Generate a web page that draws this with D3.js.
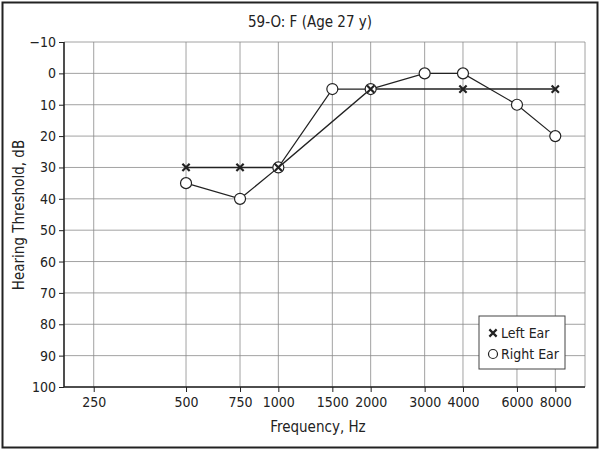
<!DOCTYPE html>
<html>
<head>
<meta charset="utf-8">
<script src="https://cdn.jsdelivr.net/npm/d3@7"></script>
<style>
  body { margin: 0; background: #fff; }
  text { font-family: "Liberation Sans Narrow", "Arial Narrow", "DejaVu Sans Condensed", sans-serif; fill: #222; }
</style>
</head>
<body>
<svg id="chart" width="600" height="450"></svg>
<script>
const freqTicks = [250, 500, 750, 1000, 1500, 2000, 3000, 4000, 6000, 8000];
const dbTicks = [-10, 0, 10, 20, 30, 40, 50, 60, 70, 80, 90, 100];

const leftFreq = [500, 750, 1000, 2000, 4000, 8000];
const leftDb = [30, 30, 30, 5, 5, 5];

const rightFreq = [500, 750, 1000, 1500, 2000, 3000, 4000, 6000, 8000];
const rightDb = [35, 40, 30, 5, 5, 0, 0, 10, 20];

const svg = d3.select("#chart");
const m = { left: 64, right: 585, top: 42, bottom: 387 };

// outer frame
svg.append("rect").attr("x", 2.5).attr("y", 2.5).attr("width", 595).attr("height", 445)
  .attr("fill", "#fff").attr("stroke", "#222").attr("stroke-width", 2);

const x = d3.scaleLog().domain([200, 10000]).range([m.left, m.right]);
const y = d3.scaleLinear().domain([-10, 100]).range([m.top, m.bottom]);

// grid
const grid = svg.append("g").attr("stroke", "#8a8a8a").attr("stroke-width", 0.8);
grid.selectAll(".gx").data(freqTicks).enter().append("line")
  .attr("x1", d => x(d)).attr("x2", d => x(d)).attr("y1", m.top).attr("y2", m.bottom);
grid.selectAll(".gy").data(dbTicks).enter().append("line")
  .attr("x1", m.left).attr("x2", m.right).attr("y1", d => y(d)).attr("y2", d => y(d));
grid.append("line").attr("x1", m.right).attr("x2", m.right).attr("y1", m.top).attr("y2", m.bottom);

// axes
const yAxis = svg.append("g").attr("transform", `translate(${m.left},0)`)
  .call(d3.axisLeft(y).tickValues(dbTicks).tickSize(5).tickPadding(3)
    .tickFormat(d => d < 0 ? "\u2212" + Math.abs(d) : d));
const xAxis = svg.append("g").attr("transform", `translate(0,${m.bottom})`)
  .call(d3.axisBottom(x).tickValues(freqTicks).tickSize(5).tickPadding(5).tickFormat(d3.format("d")));
[xAxis, yAxis].forEach(a => {
  a.select(".domain").attr("stroke", "#222").attr("stroke-width", 1.6);
  a.selectAll(".tick line").attr("stroke", "#222").attr("stroke-width", 1);
  a.selectAll(".tick text").attr("font-size", 14).attr("fill", "#222")
    .style("font-family", "'Liberation Sans Narrow', 'Arial Narrow', 'DejaVu Sans Condensed', sans-serif");
});
yAxis.select(".domain").attr("d", `M0,${m.top}V${m.bottom}`);
xAxis.select(".domain").attr("d", `M${m.left},0H${m.right}`);

// titles
svg.append("text").attr("x", 310).attr("y", 27).attr("text-anchor", "middle")
  .attr("font-size", 15).text("59-O: F (Age 27 y)");
svg.append("text").attr("x", 318).attr("y", 432).attr("text-anchor", "middle")
  .attr("font-size", 15).text("Frequency, Hz");
svg.append("text").attr("transform", "translate(24,215) rotate(-90)").attr("text-anchor", "middle")
  .attr("font-size", 15).text("Hearing Threshold, dB");

const line = d3.line().x(d => x(d[0])).y(d => y(d[1]));
const left = leftFreq.map((f, i) => [f, leftDb[i]]);
const right = rightFreq.map((f, i) => [f, rightDb[i]]);

svg.append("path").datum(left).attr("d", line).attr("fill", "none")
  .attr("stroke", "#222").attr("stroke-width", 1.4);
svg.append("path").datum(right).attr("d", line).attr("fill", "none")
  .attr("stroke", "#222").attr("stroke-width", 1.2);

svg.append("g").selectAll("circle").data(right).enter().append("circle")
  .attr("cx", d => x(d[0])).attr("cy", d => y(d[1])).attr("r", 5.5)
  .attr("fill", "#fff").attr("stroke", "#222").attr("stroke-width", 1.2);

const cross = d3.symbol().type(d3.symbolTimes).size(36);
svg.append("g").selectAll("path").data(left).enter().append("path")
  .attr("transform", d => `translate(${x(d[0])},${y(d[1])})`)
  .attr("d", cross).attr("fill", "none").attr("stroke", "#222").attr("stroke-width", 2.2);

// legend
const lg = svg.append("g").attr("transform", "translate(479,316)");
lg.append("rect").attr("width", 86).attr("height", 53)
  .attr("fill", "#fff").attr("stroke", "#444").attr("stroke-width", 1);
lg.append("path").attr("transform", "translate(14,17)").attr("d", cross)
  .attr("fill", "none").attr("stroke", "#222").attr("stroke-width", 2.2);
lg.append("circle").attr("cx", 14).attr("cy", 38).attr("r", 4.5)
  .attr("fill", "#fff").attr("stroke", "#222").attr("stroke-width", 1.2);
lg.append("text").attr("x", 22).attr("y", 22).attr("font-size", 14).text("Left Ear");
lg.append("text").attr("x", 22).attr("y", 43).attr("font-size", 14).text("Right Ear");
</script>
</body>
</html>
